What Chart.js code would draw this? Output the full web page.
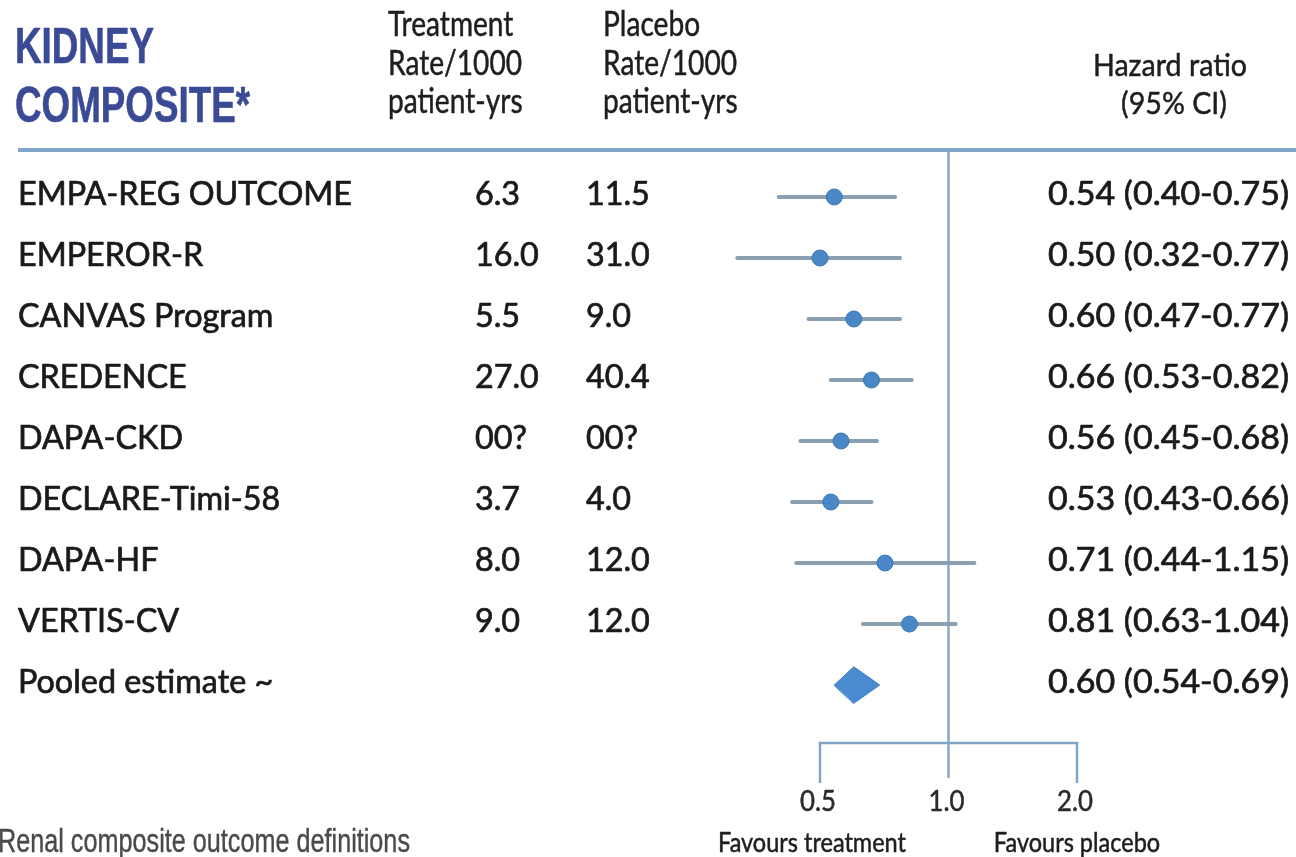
<!DOCTYPE html>
<html>
<head>
<meta charset="utf-8">
<title>Kidney composite – forest plot</title>
<script src="https://cdn.jsdelivr.net/npm/chart.js@4.4.1/dist/chart.umd.min.js"></script>
<style>
  html, body { margin: 0; padding: 0; background: #ffffff; }
  #wrap { width: 1296px; height: 857px; position: relative; }
</style>
</head>
<body>
<div id="wrap"><canvas id="forest" width="1296" height="857"></canvas></div>
<script>
// Trials, event rates and hazard ratios
const trials = ['EMPA-REG OUTCOME', 'EMPEROR-R', 'CANVAS Program', 'CREDENCE',
                'DAPA-CKD', 'DECLARE-Timi-58', 'DAPA-HF', 'VERTIS-CV'];
const treatmentRates = ['6.3', '16.0', '5.5', '27.0', '00?', '3.7', '8.0', '9.0'];
const placeboRates   = ['11.5', '31.0', '9.0', '40.4', '00?', '4.0', '12.0', '12.0'];
const hazardRatios = [0.54, 0.50, 0.60, 0.66, 0.56, 0.53, 0.71, 0.81];
const ciLower      = [0.40, 0.32, 0.47, 0.53, 0.45, 0.43, 0.44, 0.63];
const ciUpper      = [0.75, 0.77, 0.77, 0.82, 0.68, 0.66, 1.15, 1.04];

// Pooled estimate: [HR, lower, upper]
const pooledLabel = 'Pooled estimate ~';
const pooledEstimate = [0.60, 0.54, 0.69];

// Axis ticks
const xTicks = [0.5, 1.0, 2.0];
const xTickLabels = ['0.5', '1.0', '2.0'];

const fmt = v => v.toFixed(2);
const hrText = (hr, lo, hi) => `${fmt(hr)} (${fmt(lo)}-${fmt(hi)})`;

const TEXT = '#1a1a1a';
const LINE_BLUE = '#7fa6c9';
const CI_GREY = '#8b9fb2';

function fitScale(ctx, font, sample, targetWidth) {
  ctx.save();
  ctx.font = font;
  const w = ctx.measureText(sample).width;
  ctx.restore();
  return targetWidth / w;
}

// text with optional horizontal squeeze and a faint outline for extra weight
function drawText(ctx, text, x, y, font, color, align, sx, weight) {
  ctx.save();
  ctx.font = font;
  ctx.fillStyle = color;
  ctx.textAlign = align;
  ctx.textBaseline = 'alphabetic';
  ctx.translate(x, y);
  ctx.scale(sx, 1);
  ctx.fillText(text, 0, 0);
  if (weight) {
    ctx.strokeStyle = color;
    ctx.lineWidth = weight;
    ctx.lineJoin = 'round';
    ctx.strokeText(text, 0, 0);
  }
  ctx.restore();
}

const forestPlugin = {
  id: 'forest',
  beforeDatasetsDraw(chart) {
    const { ctx } = chart;
    const xs = chart.scales.x, ys = chart.scales.y;
    const x05 = xs.getPixelForValue(xTicks[0]);
    const x1 = xs.getPixelForValue(xTicks[1]);
    const x2 = xs.getPixelForValue(xTicks[2]);
    const top = chart.chartArea.top;
    const bottom = chart.chartArea.bottom;

    ctx.save();
    // header rule
    ctx.strokeStyle = LINE_BLUE;
    ctx.lineWidth = 4;
    ctx.beginPath();
    ctx.moveTo(18, top);
    ctx.lineTo(1296, top);
    ctx.stroke();

    // line of no effect
    ctx.strokeStyle = '#8aa9c6';
    ctx.lineWidth = 2.5;
    ctx.beginPath();
    ctx.moveTo(x1, top);
    ctx.lineTo(x1, bottom + 35);
    ctx.stroke();

    // bracket axis
    ctx.strokeStyle = LINE_BLUE;
    ctx.lineWidth = 2.5;
    ctx.beginPath();
    ctx.moveTo(x05, bottom + 40);
    ctx.lineTo(x05, bottom);
    ctx.lineTo(x2, bottom);
    ctx.lineTo(x2, bottom + 40);
    ctx.stroke();

    // confidence intervals
    ctx.strokeStyle = CI_GREY;
    ctx.lineWidth = 4;
    ctx.lineCap = 'round';
    for (let i = 0; i < trials.length; i++) {
      const y = ys.getPixelForValue(i);
      ctx.beginPath();
      ctx.moveTo(xs.getPixelForValue(ciLower[i]), y);
      ctx.lineTo(xs.getPixelForValue(ciUpper[i]), y);
      ctx.stroke();
    }

    // pooled diamond
    const py = ys.getPixelForValue(trials.length);
    const half = ys.getPixelForValue(trials.length + 0.3) - py;
    ctx.fillStyle = '#4a8bd0';
    ctx.strokeStyle = '#3f7ec2';
    ctx.lineWidth = 1;
    ctx.beginPath();
    ctx.moveTo(xs.getPixelForValue(pooledEstimate[1]), py);
    ctx.lineTo(xs.getPixelForValue(pooledEstimate[0]), py - half);
    ctx.lineTo(xs.getPixelForValue(pooledEstimate[2]), py);
    ctx.lineTo(xs.getPixelForValue(pooledEstimate[0]), py + half);
    ctx.closePath();
    ctx.fill();
    ctx.stroke();
    ctx.restore();
  },
  afterDraw(chart) {
    const { ctx } = chart;
    const xs = chart.scales.x, ys = chart.scales.y;
    const bottom = chart.chartArea.bottom;

    // title
    const titleFont = 'bold 50px "Liberation Sans", Arial, sans-serif';
    const tsx = fitScale(ctx, titleFont, 'COMPOSITE*', 235);
    drawText(ctx, 'KIDNEY', 15, 63, titleFont, '#3b4a95', 'left', tsx, 0.6);
    drawText(ctx, 'COMPOSITE*', 15, 122, titleFont, '#3b4a95', 'left', tsx, 0.6);

    // column headers
    const hFont = '34px Lato, "Open Sans", sans-serif';
    const hsx = fitScale(ctx, hFont, 'Rate/1000', 134);
    ['Treatment', 'Rate/1000', 'patient-yrs'].forEach((t, k) =>
      drawText(ctx, t, 388, 36 + k * 38.5, hFont, '#1e1e1e', 'left', hsx, 0.5));
    ['Placebo', 'Rate/1000', 'patient-yrs'].forEach((t, k) =>
      drawText(ctx, t, 603, 36 + k * 38.5, hFont, '#1e1e1e', 'left', hsx, 0.5));

    const hrFont = '31px Lato, "Open Sans", sans-serif';
    const hrsx = fitScale(ctx, hrFont, 'Hazard ratio', 154);
    drawText(ctx, 'Hazard ratio', 1170, 76, hrFont, '#1e1e1e', 'center', hrsx, 0.5);
    drawText(ctx, '(95% CI)', 1174, 114, hrFont, '#1e1e1e', 'center', hrsx, 0.5);

    // rows
    const rFont = '33px Lato, "Open Sans", sans-serif';
    const rsx = fitScale(ctx, rFont, trials[0], 334);
    const vsx = fitScale(ctx, rFont, hrText(hazardRatios[0], ciLower[0], ciUpper[0]), 241);
    for (let i = 0; i < trials.length; i++) {
      const y = ys.getPixelForValue(i) + 8;
      drawText(ctx, trials[i], 18, y, rFont, TEXT, 'left', rsx, 0.7);
      drawText(ctx, treatmentRates[i], 475, y, rFont, TEXT, 'left', rsx, 0.7);
      drawText(ctx, placeboRates[i], 586, y, rFont, TEXT, 'left', rsx, 0.7);
      drawText(ctx, hrText(hazardRatios[i], ciLower[i], ciUpper[i]), 1289, y, rFont, TEXT, 'right', vsx, 0.7);
    }
    const py = ys.getPixelForValue(trials.length) + 8;
    drawText(ctx, pooledLabel, 18, py, rFont, TEXT, 'left', rsx, 0.7);
    drawText(ctx, hrText(pooledEstimate[0], pooledEstimate[1], pooledEstimate[2]), 1289, py, rFont, TEXT, 'right', vsx, 0.7);

    // tick labels
    const tFont = '28px Lato, "Open Sans", sans-serif';
    const tsx2 = fitScale(ctx, tFont, '0.5', 36);
    xTicks.forEach((v, k) =>
      drawText(ctx, xTickLabels[k], xs.getPixelForValue(v) - 2, bottom + 68, tFont, '#2a2a2a', 'center', tsx2, 0.5));

    // direction captions
    const fFont = '26px Lato, "Open Sans", sans-serif';
    const fsx = fitScale(ctx, fFont, 'Favours treatment', 188);
    drawText(ctx, 'Favours treatment', xs.getPixelForValue(0.5) - 8, bottom + 109, fFont, '#1e1e1e', 'center', fsx, 0.5);
    drawText(ctx, 'Favours placebo', xs.getPixelForValue(2.0), bottom + 109, fFont, '#1e1e1e', 'center', fsx, 0.5);

    // footnote
    const nFont = '34px "Liberation Sans", Arial, sans-serif';
    const nsx = fitScale(ctx, nFont, 'Renal composite outcome definitions', 412);
    drawText(ctx, 'Renal composite outcome definitions', -2, 852, nFont, '#4a4a4a', 'left', nsx, 0.4);
  }
};

new Chart(document.getElementById('forest'), {
  type: 'scatter',
  data: {
    datasets: [{
      label: 'Hazard ratio',
      data: hazardRatios.map((hr, i) => ({ x: hr, y: i })),
      clip: false,
      pointRadius: 8,
      pointHoverRadius: 8,
      backgroundColor: '#4a87c6',
      borderColor: '#3c76b3',
      borderWidth: 1
    }]
  },
  options: {
    responsive: false,
    animation: false,
    events: [],
    layout: { padding: { left: 820, right: 219, top: 150, bottom: 114 } },
    plugins: { legend: { display: false }, tooltip: { enabled: false } },
    scales: {
      x: { type: 'logarithmic', min: 0.5, max: 2.0, display: false },
      y: { type: 'linear', min: -0.77, max: 8.95, reverse: true, display: false }
    }
  },
  plugins: [forestPlugin]
});
</script>
</body>
</html>
